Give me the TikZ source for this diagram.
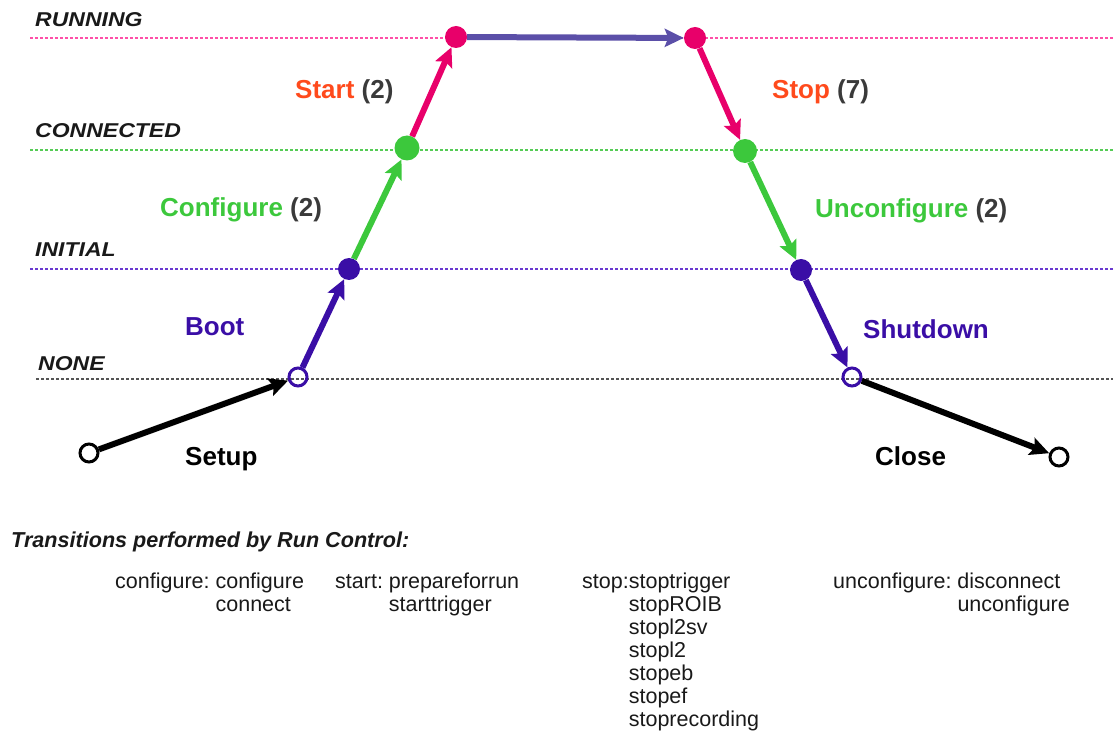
\documentclass[tikz,border=0pt]{standalone}
\usepackage{fontspec}
\setmainfont{Liberation Sans}
\newfontfamily\statefont[FakeStretch=1.15]{Liberation Sans}
\usetikzlibrary{arrows.meta}

\definecolor{runpink}{HTML}{E8006A}
\definecolor{linepink}{HTML}{FF4FA8}
\definecolor{cfggreen}{HTML}{3CC83C}
\definecolor{linegreen}{HTML}{55CC55}
\definecolor{bootpurple}{HTML}{3A0EA6}
\definecolor{linepurple}{HTML}{6A3AD0}
\definecolor{toplink}{HTML}{5B4FA8}
\definecolor{startred}{HTML}{FF4A1C}
\definecolor{numgray}{HTML}{3A3A3A}
\definecolor{nonegray}{HTML}{555555}

\tikzset{
  levelline/.style={line width=2.5pt, dash pattern=on 2.5pt off 2.5pt},
  statelbl/.style={anchor=base west, inner sep=0pt, text=black!90,
    font=\statefont\bfseries\itshape\fontsize{20}{24}\selectfont},
  trlbl/.style={anchor=base west, inner sep=0pt,
    font=\bfseries\fontsize{26}{30}\selectfont},
  statedot/.style={circle, inner sep=0pt, minimum size=22pt, fill=#1},
  opendot/.style={circle, inner sep=0pt, minimum size=18pt, draw=#1, line width=3pt},
  trans/.style={line width=6pt, draw=#1,
    -{Stealth[length=19pt,width=18pt,inset=3.5pt]}},
  tasklist/.style={anchor=base west, inner sep=0pt, text=black!90,
    font=\fontsize{21.5}{23}\selectfont},
}

\begin{document}
\begin{tikzpicture}[x=1pt,y=-1pt]
\useasboundingbox (0,0) rectangle (1113,735);

% state levels
\coordinate (runL) at (30,38);   \coordinate (runR) at (1113,38);
\coordinate (conL) at (30,150);  \coordinate (conR) at (1113,150);
\coordinate (iniL) at (30,269);  \coordinate (iniR) at (1113,269);
\coordinate (nonL) at (36,379);  \coordinate (nonR) at (1113,379);
\draw[levelline, linepink]   (runL) -- (runR);
\draw[levelline, linegreen]  (conL) -- (conR);
\draw[levelline, linepurple] (iniL) -- (iniR);
\draw[levelline, nonegray]   (nonL) -- (nonR);

\node[statelbl] (lrun) at (35,27)  {RUNNING};
\node[statelbl] (lcon) at (35,138) {CONNECTED};
\node[statelbl] (lini) at (35,257) {INITIAL};
\node[statelbl] (lnon) at (38,370) {NONE};

% state points
\node[opendot=black]          (s0) at (89,453)  {};
\node[opendot=bootpurple]     (n1) at (298,377) {};
\node[statedot=bootpurple]    (i1) at (349,269) {};
\node[statedot=cfggreen, minimum size=25pt] (c1) at (407,148) {};
\node[statedot=runpink]       (r1) at (456,37)  {};
\node[statedot=runpink]       (r2) at (695,38)  {};
\node[statedot=cfggreen, minimum size=24pt] (c2) at (745,151) {};
\node[statedot=bootpurple]    (i2) at (801,270) {};
\node[opendot=bootpurple]     (n2) at (852,377) {};
\node[opendot=black]          (e0) at (1059,457) {};

% transitions
\draw[trans=black]      (s0) -- (n1);
\draw[trans=bootpurple] (n1) -- (i1);
\draw[trans=cfggreen]   (i1) -- (c1);
\draw[trans=runpink]    (c1) -- (r1);
\draw[trans=toplink]    (r1) -- (r2);
\draw[trans=runpink]    (r2) -- (c2);
\draw[trans=cfggreen]   (c2) -- (i2);
\draw[trans=bootpurple] (i2) -- (n2);
\draw[trans=black]      (n2) -- (e0);

% transition names
\node[trlbl] (tstart) at (295,99)  {\textcolor{startred}{Start} \textcolor{numgray}{(2)}};
\node[trlbl] (tstop)  at (772,99)  {\textcolor{startred}{Stop} \textcolor{numgray}{(7)}};
\node[trlbl] (tcfg)   at (160,217) {\textcolor{cfggreen}{Configure} \textcolor{numgray}{(2)}};
\node[trlbl] (tucfg)  at (815,218) {\textcolor{cfggreen}{Unconfigure} \textcolor{numgray}{(2)}};
\node[trlbl, text=bootpurple] (tboot) at (185,335) {Boot};
\node[trlbl, text=bootpurple] (tshut) at (863,338) {Shutdown};
\node[trlbl, text=black] (tsetup) at (185,465) {Setup};
\node[trlbl, text=black] (tclose) at (875,465) {Close};

% run control commands
\node[anchor=base west, inner sep=0pt, text=black!90,
      font=\bfseries\itshape\fontsize{21.6}{26}\selectfont] (title) at (11,547)
  {Transitions performed by Run Control:};

\node[tasklist] (kcfg) at (115,588)
  {\begin{tabular}[t]{@{}l@{\ }l@{}}configure: & configure\\ & connect\end{tabular}};
\node[tasklist] (kstart) at (335,588)
  {\begin{tabular}[t]{@{}l@{\ }l@{}}start: & prepareforrun\\ & starttrigger\end{tabular}};
\node[tasklist] (kstop) at (582,588)
  {\begin{tabular}[t]{@{}l@{}l@{}}stop: & stoptrigger\\ & stopROIB\\ & stopl2sv\\ & stopl2\\
     & stopeb\\ & stopef\\ & stoprecording\end{tabular}};
\node[tasklist] (kucfg) at (833,588)
  {\begin{tabular}[t]{@{}l@{\ }l@{}}unconfigure: & disconnect\\ & unconfigure\end{tabular}};
\end{tikzpicture}
\end{document}
